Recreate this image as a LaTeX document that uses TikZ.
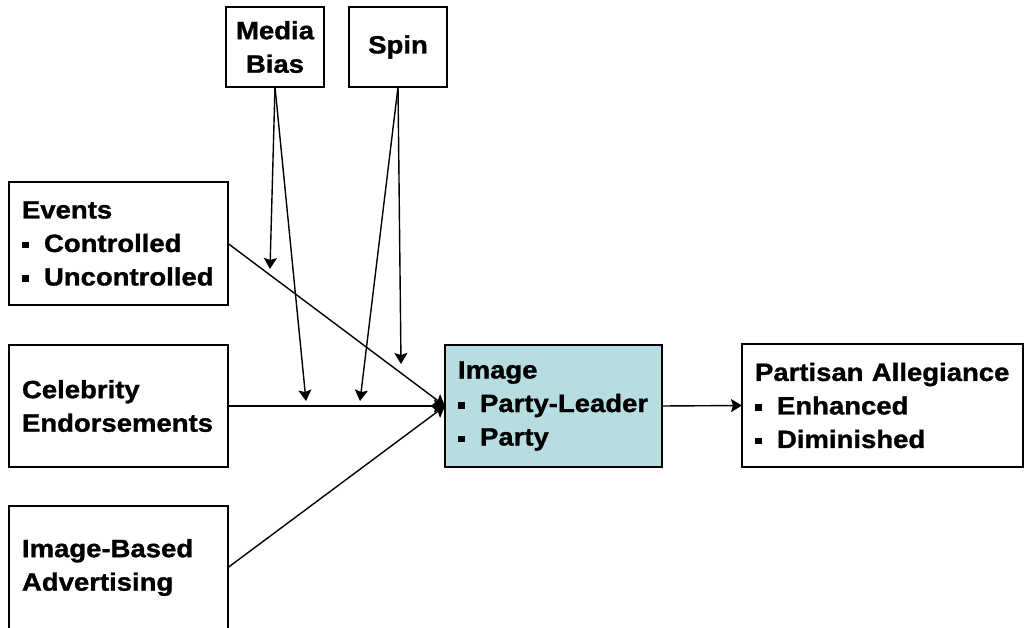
\documentclass[tikz,border=0pt]{standalone}
\usepackage{fontspec}
\setmainfont{Liberation Sans}[FakeStretch=1.1, BoldFeatures={FakeBold=1.2}]
\usetikzlibrary{arrows.meta}
\definecolor{imgfill}{RGB}{183,221,224}
% small square list marker followed by the indent of the item text
\newcommand\sqbul{\makebox[22pt][l]{\rule[3.5pt]{6.5pt}{6.5pt}}}
\tikzset{
  box/.style={draw=black, line width=1.4pt, fill=white, inner ysep=0pt,
    inner xsep=13pt, outer sep=0pt, align=left,
    font=\bfseries\fontsize{25}{33.5}\selectfont},
  topbox/.style={box, align=center, inner xsep=0pt},
  link/.style={draw=black, line width=1.4pt,
    -{Stealth[width=13pt,length=11pt,inset=2pt]}},
}
\begin{document}
\begin{tikzpicture}[x=1pt,y=-1pt]
\useasboundingbox (0,0) rectangle (1024,628);
\fill[white] (0,0) rectangle (1024,628);

% sources of influence
\node[topbox, minimum width=98pt, minimum height=80pt, text width=98pt] (mb) at (275,47) {Media\\Bias};
\node[topbox, minimum width=98pt, minimum height=80pt, text width=98pt] (sp) at (398,47) {Spin};

\node[box, minimum width=219pt, minimum height=123pt, text width=193pt] (ev) at (118.5,243.5)
  {Events\\\sqbul Controlled\\\sqbul Uncontrolled};
\node[box, minimum width=219pt, minimum height=122pt, text width=193pt] (cel) at (118.5,406)
  {Celebrity\\Endorsements};
\node[box, minimum width=219pt, minimum height=123pt, text width=193pt] (ad) at (118.5,567.5)
  {Image-Based\\Advertising};

% image and its outcome
\node[box, fill=imgfill, minimum width=217pt, minimum height=122pt, text width=191pt] (img) at (553.5,406)
  {Image\\\sqbul Party-Leader\\\sqbul Party};
\node[box, minimum width=281pt, minimum height=123pt, text width=255pt] (pa) at (882.5,405.5)
  {Partisan Allegiance\\\sqbul Enhanced\\\sqbul Diminished};

% free ends of the mediating arrows
\coordinate (mbA) at (270,269);
\coordinate (mbB) at (306,401);
\coordinate (spA) at (360,401);
\coordinate (spB) at (401,364);

\draw[link] (ev.east) -- (img.west);
\draw[link] (cel.east) -- (img.west);
\draw[link] (ad.east) -- (img.west);
\draw[link] (img.east) -- (pa.west);

\draw[link] (mb.south) -- (mbA);
\draw[link] (mb.south) -- (mbB);
\draw[link] (sp.south) -- (spA);
\draw[link] (sp.south) -- (spB);
\end{tikzpicture}
\end{document}
